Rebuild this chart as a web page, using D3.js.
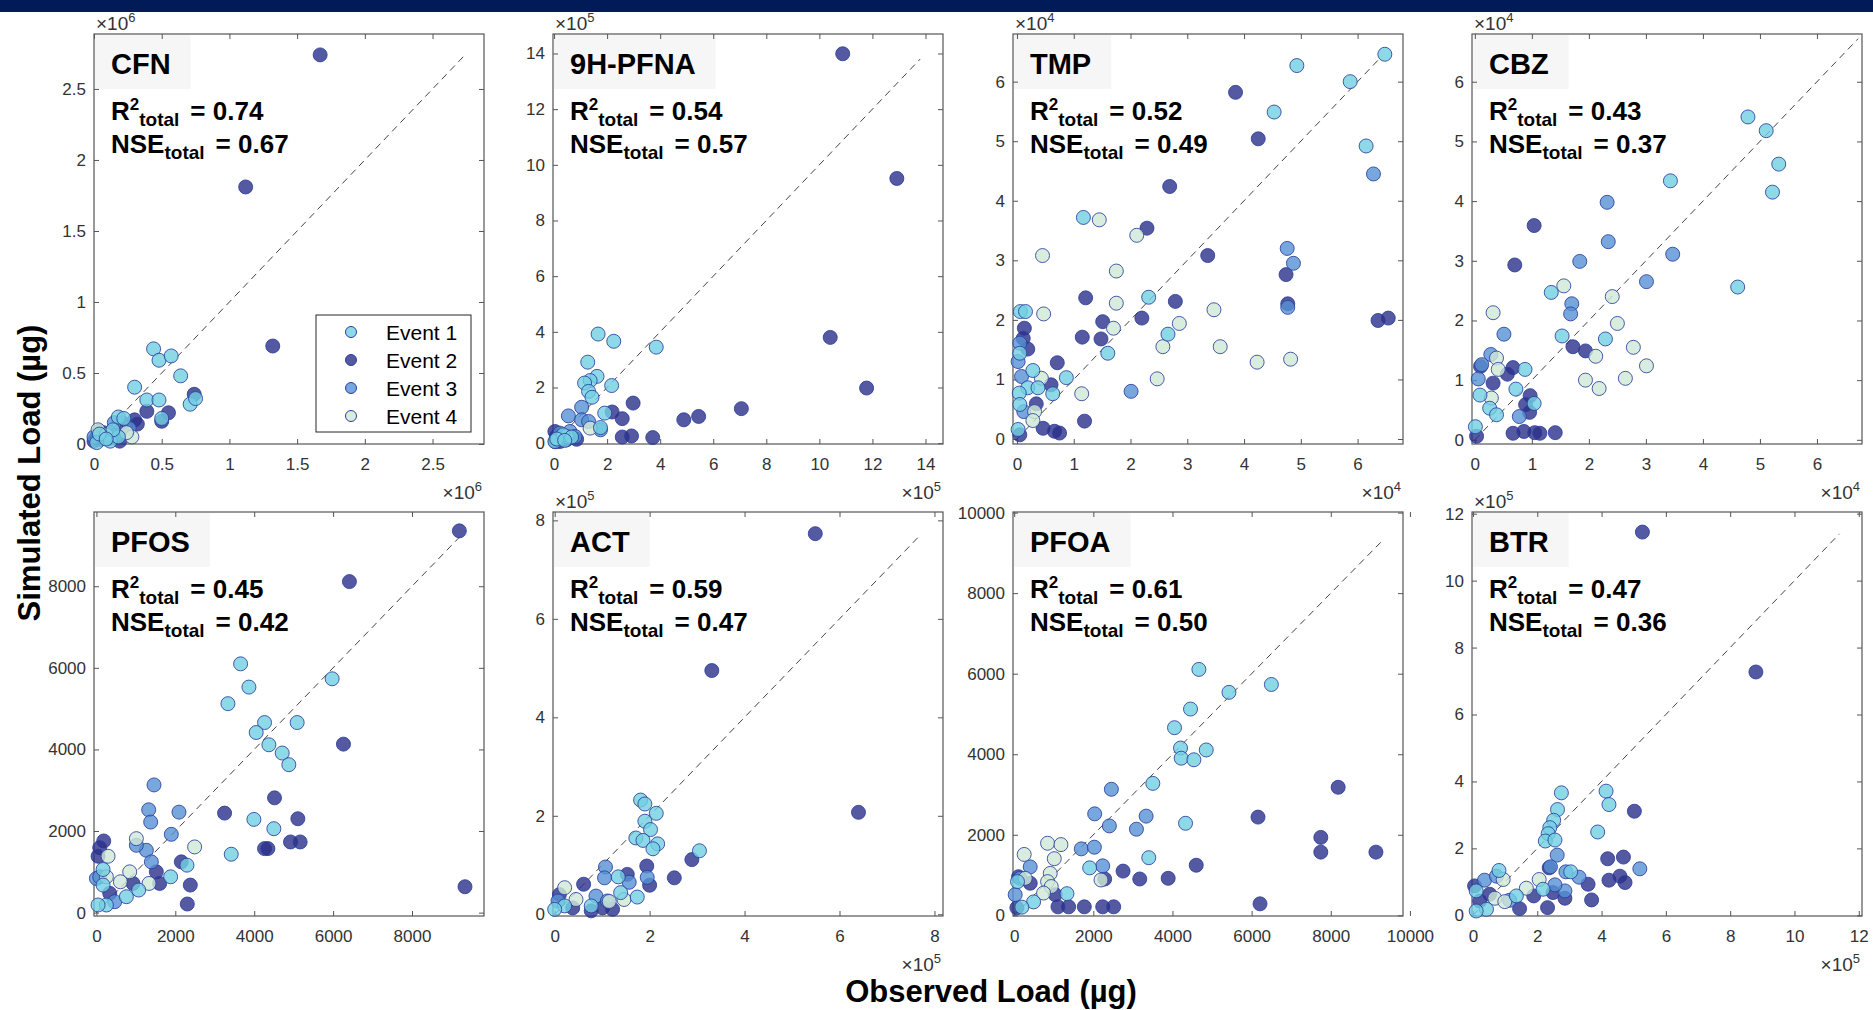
<!DOCTYPE html>
<html>
<head>
<meta charset="utf-8">
<script src="https://cdn.jsdelivr.net/npm/d3@7"></script>
<style>
  body { margin: 0; background: #fff; }
  text { font-family: Arial, "Liberation Sans", sans-serif; }
</style>
</head>
<body>
<svg id="chart" width="1873" height="1010"></svg>
<script>
// panel meta
const panelNames = ["CFN", "9H-PFNA", "TMP", "CBZ", "PFOS", "ACT", "PFOA", "BTR"]
const r2Values = ["0.74", "0.54", "0.52", "0.43", "0.45", "0.59", "0.61", "0.47"]
const nseValues = ["0.67", "0.57", "0.49", "0.37", "0.42", "0.47", "0.50", "0.36"]
const exponents = [6, 5, 4, 4, null, 5, null, 5]
const xLimits = [[0, 2.88], [-0.04, 14.66], [-0.07, 6.8], [-0.05, 6.79], [-61, 9825], [-0.035, 8.18], [-30, 9825], [-0.03, 12.1]]
const yLimits = [[0, 2.887], [-0.03, 14.7], [-0.084, 6.8], [-0.07, 6.8], [-83, 9820], [-0.035, 8.17], [-17, 10015], [-0.02, 12.05]]
const tickValues = [
  [0, 0.5, 1, 1.5, 2, 2.5],
  [0, 2, 4, 6, 8, 10, 12, 14],
  [0, 1, 2, 3, 4, 5, 6],
  [0, 1, 2, 3, 4, 5, 6],
  [0, 2000, 4000, 6000, 8000],
  [0, 2, 4, 6, 8],
  [0, 2000, 4000, 6000, 8000, 10000],
  [0, 2, 4, 6, 8, 10, 12]
]
const oneToOneEnd = [2.74, 13.8, 6.42, 6.72, 9250, 7.7, 9270, 11.4]
const eventNames = ["Event 1", "Event 2", "Event 3", "Event 4"]

// points: [event, observed, simulated] in axis units (x10^exponent)
const cfnPoints = [
  [2,1.67,2.74],[2,1.12,1.81],[2,1.32,0.69],[2,0.74,0.35],[2,0.39,0.23],[2,0.55,0.22],[2,0.50,0.16],[2,0.30,0.17],[2,0.32,0.14],[2,0.21,0.15],[2,0.02,0.05],[2,0.04,0.03],[2,0.12,0.04],[2,0.19,0.02],[2,0.0,0.02],[2,0.07,0.08],
  [1,0.44,0.67],[1,0.48,0.59],[1,0.57,0.62],[1,0.64,0.48],[1,0.30,0.40],[1,0.39,0.31],[1,0.48,0.31],[1,0.71,0.28],[1,0.75,0.32],[1,0.50,0.18],[1,0.18,0.19],[1,0.22,0.18],[1,0.02,0.01],[1,0.12,0.02],[1,0.18,0.05],[1,0.14,0.10],[1,0.04,0.07],[1,0.09,0.035],
  [3,0.15,0.15],[3,0.12,0.08],[3,0.04,0.09],[3,0.26,0.11],[3,0.0,0.05],[3,0.16,0.06],
  [4,0.03,0.10],[4,0.28,0.05],[4,0.24,0.08],[4,0.09,0.065]
]
const pfnaPoints = [
  [2,10.88,13.99],[2,12.92,9.51],[2,10.41,3.80],[2,11.78,1.98],[2,7.06,1.24],[2,5.45,0.96],[2,4.89,0.84],[2,2.98,1.44],[2,2.57,0.88],[2,2.19,1.12],[2,2.57,0.22],[2,2.92,0.26],[2,3.72,0.20],[2,0.09,0.24],[2,0.22,0.06],[2,0.03,0.42],[2,0.47,0.12],[2,0.85,0.14],[2,0.05,0.05],
  [1,1.66,3.92],[1,2.25,3.66],[1,3.85,3.45],[1,1.27,2.91],[1,1.62,2.40],[1,1.36,2.25],[1,1.15,2.16],[1,1.30,1.86],[1,1.43,1.65],[1,2.17,2.07],[1,1.91,1.08],[1,1.75,0.56],[1,0.03,0.06],[1,0.34,0.30],[1,0.66,0.22],[1,0.10,0.15],[1,0.40,0.10],
  [3,0.54,0.98],[3,1.04,1.29],[3,1.04,0.84],[3,1.30,0.78],[3,1.75,0.48],[3,0.22,0.36],[3,0.60,0.42],[3,0.79,0.24],
  [4,1.36,0.54],[4,0.47,0.24],[4,0.15,0.12]
]
const tmpPoints = [
  [1,6.48,6.46],[1,4.93,6.27],[1,5.87,6.00],[1,4.53,5.49],[1,6.15,4.92],[1,1.17,3.72],[1,2.32,2.38],[1,2.66,1.76],[1,1.60,1.44],[1,0.28,1.15],[1,0.87,1.03],[1,0.19,0.86],[1,0.37,0.86],[1,0.63,0.76],[1,0.06,2.14],[1,0.15,2.14],[1,0.04,0.77],[1,0.05,0.58],[1,0.02,0.16],[1,0.05,1.44],
  [2,3.85,5.82],[2,4.25,5.04],[2,2.69,4.24],[2,2.29,3.54],[2,3.36,3.08],[2,4.74,2.76],[2,1.21,2.37],[2,2.79,2.31],[2,2.20,2.03],[2,1.51,1.97],[2,1.15,1.71],[2,1.48,1.68],[2,0.71,1.28],[2,4.77,2.27],[2,6.36,1.99],[2,6.54,2.03],[2,1.19,0.30],[2,0.13,1.86],[2,0.19,1.51],[2,0.11,1.69],[2,0.60,0.91],[2,0.46,0.18],[2,0.66,0.13],[2,0.75,0.10],[2,0.34,0.59],[2,0.05,0.07],
  [3,6.28,4.45],[3,4.76,3.20],[3,4.87,2.95],[3,4.77,2.21],[3,2.01,0.80],[3,0.02,1.30],[3,0.05,1.61],[3,0.08,1.05],[3,0.12,0.46],
  [4,0.45,3.08],[4,1.45,3.68],[4,2.11,3.42],[4,1.75,2.82],[4,1.75,2.28],[4,0.47,2.10],[4,1.70,1.86],[4,2.86,1.94],[4,3.47,2.17],[4,2.57,1.55],[4,3.58,1.55],[4,4.23,1.29],[4,4.82,1.34],[4,2.47,1.01],[4,1.14,0.76],[4,0.43,1.02],[4,0.31,0.46],[4,0.28,0.31]
]
const cbzPoints = [
  [1,4.79,5.41],[1,5.11,5.18],[1,5.33,4.62],[1,5.22,4.15],[1,3.43,4.34],[1,4.61,2.56],[1,1.34,2.47],[1,1.53,1.74],[1,2.29,1.69],[1,0.88,1.18],[1,0.72,0.85],[1,1.04,0.61],[1,0.09,0.75],[1,0.01,0.22],[1,0.26,0.53],[1,0.38,0.42],
  [2,1.04,3.59],[2,0.70,2.93],[2,1.72,1.56],[2,1.94,1.49],[2,0.67,1.21],[2,0.57,1.10],[2,0.32,0.95],[2,0.97,0.74],[2,0.89,0.59],[2,0.96,0.46],[2,0.67,0.11],[2,0.86,0.14],[2,1.05,0.12],[2,1.14,0.11],[2,1.41,0.12],[2,0.03,0.06],[2,0.10,1.23],
  [3,2.32,3.98],[3,2.34,3.32],[3,1.84,2.99],[3,3.47,3.11],[3,3.01,2.65],[3,1.70,2.28],[3,1.68,2.11],[3,0.51,1.77],[3,0.28,1.43],[3,0.06,1.02],[3,0.78,0.39],[3,0.12,1.26],
  [4,1.56,2.58],[4,2.41,2.40],[4,2.50,1.95],[4,0.32,2.13],[4,2.78,1.55],[4,2.12,1.40],[4,3.01,1.24],[4,1.94,1.00],[4,2.64,1.03],[4,2.18,0.86],[4,0.38,1.37],[4,0.29,0.70],[4,0.41,1.18]
]
const pfosPoints = [
  [2,9200,9358],[2,6414,8114],[2,9343,634],[2,6262,4130],[2,4515,2813],[2,3249,2439],[2,5106,2301],[2,4920,1732],[2,5165,1732],[2,4262,1569],[2,4347,1569],[2,2380,675],[2,2304,211],[2,2152,1244],[2,186,1756],[2,84,1593],[2,42,1382],[2,1519,1000],[2,1603,715],[2,928,715],[2,338,472],
  [1,3655,6098],[1,3866,5528],[1,3334,5122],[1,4262,4659],[1,5089,4659],[1,4051,4415],[1,4372,4114],[1,4710,3911],[1,4878,3626],[1,5976,5732],[1,3992,2285],[1,4498,2057],[1,3418,1431],[1,2296,1163],[1,1882,878],[1,1072,553],[1,169,1057],[1,169,675],[1,253,187],[1,42,187],[1,760,390],
  [3,1460,3130],[3,1325,2520],[3,1376,2220],[3,2093,2463],[3,1899,1919],[3,1266,1528],[3,1393,1244],[3,1013,1650],[3,0,837],[3,84,878],[3,464,268],
  [4,1013,1813],[4,2490,1610],[4,844,1000],[4,295,1382],[4,608,756],[4,1334,715],[4,253,878]
]
const actPoints = [
  [2,5.49,7.73],[2,3.31,4.95],[2,6.40,2.07],[2,2.52,0.74],[2,2.89,1.11],[2,1.94,0.98],[2,2.00,0.59],[2,1.53,0.81],[2,0.61,0.61],[2,1.01,0.13],[2,1.22,0.10],[2,0.10,0.40],[2,0.38,0.13],[2,0.77,0.07],
  [1,1.81,2.32],[1,1.90,2.24],[1,2.14,2.05],[1,1.90,1.89],[1,2.02,1.72],[1,1.71,1.55],[1,1.86,1.50],[1,2.17,1.43],[1,2.07,1.33],[1,3.05,1.29],[1,1.34,0.76],[1,1.74,0.35],[1,1.39,0.44],[1,0.21,0.17],[1,0.0,0.10],[1,0.77,0.17],
  [3,1.07,0.96],[3,1.05,0.74],[3,1.95,0.75],[3,1.57,0.65],[3,0.87,0.37],[3,0.07,0.27],[3,1.11,0.27],
  [4,0.21,0.54],[4,1.46,0.30],[4,0.45,0.30],[4,1.15,0.26]
]
const pfoaPoints = [
  [2,8187,3179],[2,6161,2439],[2,7748,1935],[2,7748,1569],[2,9141,1569],[2,4600,1244],[2,2751,1098],[2,3173,902],[2,3891,919],[2,2287,902],[2,6212,285],[2,1772,211],[2,2237,211],[2,2515,211],[2,1376,211],[2,1106,211],[2,405,797],[2,110,959],[2,68,187],[2,1038,512],
  [1,4667,6106],[1,6499,5732],[1,5427,5537],[1,4456,5122],[1,4051,4659],[1,4203,4154],[1,4220,3902],[1,4541,3862],[1,4853,4106],[1,3503,3276],[1,4330,2285],[1,3401,1431],[1,1907,1179],[1,1334,537],[1,84,837],[1,490,333],[1,194,203],
  [3,2456,3130],[3,2034,2520],[3,2405,2220],[3,3334,2463],[3,3089,2138],[3,1696,1650],[3,2026,1691],[3,2237,1228],[3,405,1203],[3,152,919],[3,25,512],
  [4,253,1512],[4,844,1789],[4,1182,1756],[4,1013,1406],[4,911,1041],[4,844,837],[4,937,715],[4,2194,878],[4,279,919],[4,743,553]
]
const btrPoints = [
  [2,5.27,11.45],[2,8.80,7.27],[2,5.02,3.11],[2,4.19,1.69],[2,4.68,1.74],[2,4.23,1.05],[2,4.57,1.17],[2,4.73,0.98],[2,3.58,0.93],[2,3.69,0.46],[2,2.86,0.51],[2,2.32,0.23],[2,1.89,0.58],[2,2.49,0.68],[2,2.37,1.42],[2,1.45,0.20],[2,0.21,0.43],[2,0.05,0.88],[2,0.52,0.63],
  [1,2.75,3.66],[1,4.14,3.71],[1,4.23,3.31],[1,2.63,3.16],[1,2.51,2.84],[1,2.39,2.62],[1,2.34,2.44],[1,2.25,2.22],[1,2.55,2.25],[1,3.88,2.49],[1,3.04,1.30],[1,2.18,0.78],[1,0.81,1.34],[1,1.35,0.58],[1,0.10,0.73],[1,0.42,0.18],[1,0.10,0.13],
  [3,2.62,1.80],[3,2.41,1.45],[3,3.30,1.14],[3,5.19,1.39],[3,2.89,1.30],[3,2.86,0.73],[3,2.55,0.91],[3,0.36,1.05],[3,0.73,1.17],[3,1.14,0.45],
  [4,2.06,1.07],[4,1.66,0.81],[4,0.94,1.07],[4,0.68,0.51],[4,0.99,0.41]
]
const panelPoints = [cfnPoints, pfnaPoints, tmpPoints, cbzPoints, pfosPoints, actPoints, pfoaPoints, btrPoints]

// styling
const eventFill = {1: "#72cfe2", 2: "#2a2f8a", 3: "#5591d3", 4: "#cfe9d6"}
const drawOrder = {2: 0, 3: 1, 4: 2, 1: 3}
const edgeColour = "#2c3e9c"
const colLeft = [94, 553, 1013, 1472]
const rowTop = [34, 512]
const panelWidth = 390
const rowHeight = [410, 404]
const fmt = d3.format("~g")

const svg = d3.select("#chart")
svg.append("rect").attr("width", 1873).attr("height", 12).attr("fill", "#011a58")

panelNames.forEach((name, i) => {
  const col = i % 4, row = Math.floor(i / 4)
  const w = panelWidth, h = rowHeight[row]
  const g = svg.append("g").attr("transform", `translate(${colLeft[col]},${rowTop[row]})`)

  const x = d3.scaleLinear().domain(xLimits[i]).range([0, w])
  const y = d3.scaleLinear().domain(yLimits[i]).range([h, 0])

  // title box
  const titleBg = g.append("rect").attr("x", 1).attr("y", 1).attr("height", 54).attr("fill", "#f6f6f6")
  const title = g.append("text")
    .attr("x", 17).attr("y", 40)
    .style("font-size", "29px").style("font-weight", "bold").attr("fill", "#000")
    .text(name)
  titleBg.attr("width", title.node().getComputedTextLength() + 36)

  // axes, ticks inward on all four sides
  const styleAxis = sel => {
    sel.select(".domain").remove()
    sel.selectAll(".tick line").attr("stroke", "#555")
    sel.selectAll("text").style("font-size", "17px").attr("fill", "#333")
      .style("font-family", 'Arial, "Liberation Sans", sans-serif')
  }
  g.append("g").attr("transform", `translate(0,${h})`)
    .call(d3.axisBottom(x).tickValues(tickValues[i]).tickSize(-5).tickSizeOuter(0).tickPadding(14).tickFormat(fmt))
    .call(styleAxis)
  g.append("g")
    .call(d3.axisLeft(y).tickValues(tickValues[i]).tickSize(-5).tickSizeOuter(0).tickPadding(8).tickFormat(fmt))
    .call(styleAxis)
  g.append("g")
    .call(d3.axisTop(x).tickValues(tickValues[i]).tickSize(-5).tickSizeOuter(0).tickFormat(""))
    .call(styleAxis)
  g.append("g").attr("transform", `translate(${w},0)`)
    .call(d3.axisRight(y).tickValues(tickValues[i]).tickSize(-5).tickSizeOuter(0).tickFormat(""))
    .call(styleAxis)

  g.append("rect").attr("width", w).attr("height", h)
    .attr("fill", "none").attr("stroke", "#555").attr("stroke-width", 1.2)

  // 1:1 line
  g.append("line")
    .attr("x1", x(0)).attr("y1", y(0))
    .attr("x2", x(oneToOneEnd[i])).attr("y2", y(oneToOneEnd[i]))
    .attr("stroke", "#444").attr("stroke-width", 1).attr("stroke-dasharray", "7,5")

  // points
  const pts = panelPoints[i].slice().sort((a, b) => drawOrder[a[0]] - drawOrder[b[0]])
  g.selectAll("circle.pt")
    .data(pts)
    .join("circle")
    .attr("class", "pt")
    .attr("cx", d => x(d[1]))
    .attr("cy", d => y(d[2]))
    .attr("r", 7)
    .attr("fill", d => eventFill[d[0]])
    .attr("fill-opacity", 0.8)
    .attr("stroke", edgeColour)
    .attr("stroke-opacity", 0.85)
    .attr("stroke-width", 1)

  // stats
  const r2 = g.append("text").attr("x", 17).attr("y", 86)
    .style("font-size", "26px").style("font-weight", "bold").attr("fill", "#000")
  r2.append("tspan").text("R")
  r2.append("tspan").attr("dy", -10).style("font-size", "17px").text("2")
  r2.append("tspan").attr("dy", 16).style("font-size", "19px").text("total")
  r2.append("tspan").attr("dy", -6).attr("dx", 11).text("= " + r2Values[i])

  const nse = g.append("text").attr("x", 17).attr("y", 119)
    .style("font-size", "26px").style("font-weight", "bold").attr("fill", "#000")
  nse.append("tspan").text("NSE")
  nse.append("tspan").attr("dy", 6).style("font-size", "19px").text("total")
  nse.append("tspan").attr("dy", -6).attr("dx", 11).text("= " + nseValues[i])

  // exponent labels
  if (exponents[i] !== null) {
    const ey = g.append("text").attr("x", 2).attr("y", -4)
      .style("font-size", "19px").attr("fill", "#333")
    ey.append("tspan").text("\u00d710")
    ey.append("tspan").attr("dy", -8).style("font-size", "13px").text(exponents[i])

    const ex = g.append("text").attr("x", w - 2).attr("y", h + 55)
      .attr("text-anchor", "end")
      .style("font-size", "19px").attr("fill", "#333")
    ex.append("tspan").text("\u00d710")
    ex.append("tspan").attr("dy", -8).style("font-size", "13px").text(exponents[i])
  }

  // legend only in first panel
  if (i === 0) {
    const lg = g.append("g").attr("transform", "translate(222,281)")
    lg.append("rect").attr("width", 155).attr("height", 117)
      .attr("fill", "#fff").attr("stroke", "#262626").attr("stroke-width", 1)
    eventNames.forEach((ev, k) => {
      lg.append("circle").attr("cx", 35).attr("cy", 17 + k * 28).attr("r", 5.5)
        .attr("fill", eventFill[k + 1]).attr("fill-opacity", 0.8)
        .attr("stroke", edgeColour).attr("stroke-width", 1)
      lg.append("text").attr("x", 70).attr("y", 17 + k * 28).attr("dy", "0.36em")
        .style("font-size", "21px").attr("fill", "#000").text(ev)
    })
  }
})

// shared axis titles
svg.append("text")
  .attr("transform", "translate(40,473) rotate(-90)")
  .attr("text-anchor", "middle")
  .style("font-size", "31px").style("font-weight", "bold")
  .text("Simulated Load (\u00b5g)")

svg.append("text")
  .attr("x", 991).attr("y", 1002)
  .attr("text-anchor", "middle")
  .style("font-size", "31px").style("font-weight", "bold")
  .text("Observed Load (\u00b5g)")
</script>
</body>
</html>
